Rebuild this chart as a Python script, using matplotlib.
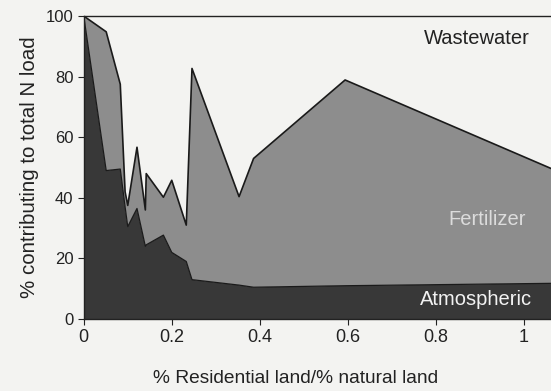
import numpy as np
import matplotlib
matplotlib.use("Agg")
from matplotlib import pyplot as plt

plt.rcParams['font.family'] = ['Liberation Sans', 'DejaVu Sans']

# ratio of residential to natural land
ratio = [0, 0.051, 0.083, 0.094, 0.100, 0.121, 0.140, 0.142, 0.181, 0.200,
         0.233, 0.246, 0.353, 0.386, 0.594, 1.07]
# % of total N load by source
atmospheric = [100, 49, 49.5, 37, 30.5, 36.5, 24, 24.5, 27.7, 22,
               19, 13, 11.2, 10.5, 11, 11.8]
fertilizer = [0, 45.8, 28, 5, 7, 20.2, 12, 23.5, 12.5, 23.8,
              12, 69.7, 29.2, 42.5, 67.9, 37.4]
wastewater = [0, 5.2, 22.5, 58, 62.5, 43.3, 64, 52, 59.8, 54.2,
              69, 17.3, 59.6, 47, 21.1, 50.8]

bg = '#f3f3f1'
dark = '#383838'
grey = '#8d8d8d'

fig = plt.figure(figsize=(5.51, 3.91), dpi=100, facecolor=bg)
ax = fig.add_axes([0.152, 0.184, 0.848, 0.775], facecolor=bg)

ax.stackplot(ratio, atmospheric, fertilizer, wastewater,
             colors=[dark, grey, bg], linewidth=0)
atm = np.array(atmospheric)
fert_top = atm + np.array(fertilizer)
ax.plot(ratio, atm, color='#1a1a1a', lw=0.9)
ax.plot(ratio, fert_top, color='#1a1a1a', lw=1.2)

ax.text(0.893, 92.7, 'Wastewater', ha='center', va='center', fontsize=14.5, color='#222222')
ax.text(0.916, 32.7, 'Fertilizer', ha='center', va='center', fontsize=14.5, color='#dcdcdc')
ax.text(0.891, 6.3, 'Atmospheric', ha='center', va='center', fontsize=14.5, color='#f2f2f2')

ax.set_xlim(0, 1.062)
ax.set_ylim(0, 100)
ax.set_xticks([0, 0.2, 0.4, 0.6, 0.8, 1])
ax.set_xticklabels(['0', '0.2', '0.4', '0.6', '0.8', '1'])
ax.set_yticks([0, 20, 40, 60, 80, 100])
ax.tick_params(axis='x', labelsize=13, length=4, width=0.8, colors='#222222')
ax.tick_params(axis='y', labelsize=12, length=4, width=0.8, colors='#222222')
ax.spines['right'].set_visible(False)
for s in ['left', 'bottom', 'top']:
    ax.spines[s].set_color('#222222')
    ax.spines[s].set_linewidth(1.0)

ax.set_xlabel('% Residential land/% natural land', fontsize=13.8, color='#222222')
ax.xaxis.set_label_coords(0.454, -0.168)
ax.set_ylabel('% contributing to total N load', fontsize=14.8, color='#222222', labelpad=5)

fig.savefig('out.png', dpi=100, facecolor=bg)
